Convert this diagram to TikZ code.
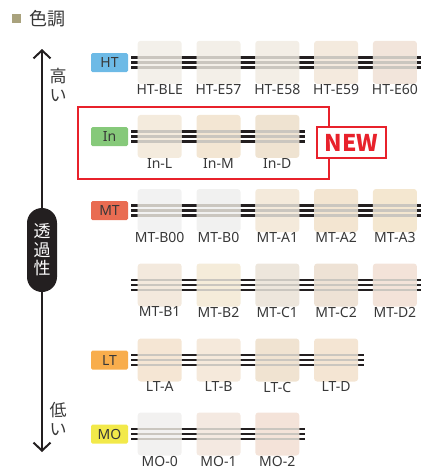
\documentclass[tikz,border=0pt]{standalone}
\usepackage{fontspec}
\setmainfont{Noto Sans}
\newfontfamily\jpfont{Noto Sans CJK JP}
\usepackage{tikz}
\usetikzlibrary{arrows.meta}
\definecolor{filmblack}{HTML}{231F20}
\definecolor{filmgray}{HTML}{CAC6BF}
\definecolor{inkgray}{HTML}{383838}
\definecolor{newred}{HTML}{E8212B}
\definecolor{titleolive}{HTML}{A9A27D}
\definecolor{gradeHT}{HTML}{6DBAE6}
\definecolor{gradeIn}{HTML}{86C97A}
\definecolor{gradeMT}{HTML}{E96C52}
\definecolor{gradeLT}{HTML}{F8AD4C}
\definecolor{gradeMO}{HTML}{F2E94A}
\definecolor{cHTBLE}{HTML}{F3F0EA}
\definecolor{cHTEa}{HTML}{F3EFE8}
\definecolor{cHTEb}{HTML}{F3EEE6}
\definecolor{cHTEc}{HTML}{F4EADE}
\definecolor{cHTEd}{HTML}{F2E5DB}
\definecolor{cInL}{HTML}{F4EBDD}
\definecolor{cInM}{HTML}{F3E6D3}
\definecolor{cInD}{HTML}{EFE3D1}
\definecolor{cMTBoo}{HTML}{F2F2F2}
\definecolor{cMTBo}{HTML}{F1F1F0}
\definecolor{cMTAa}{HTML}{F4EADB}
\definecolor{cMTAb}{HTML}{F3E5D1}
\definecolor{cMTAc}{HTML}{F4E7D0}
\definecolor{cMTBa}{HTML}{F3E9DD}
\definecolor{cMTBb}{HTML}{F5ECDA}
\definecolor{cMTCa}{HTML}{EDE6DC}
\definecolor{cMTCb}{HTML}{EEE2D5}
\definecolor{cMTDb}{HTML}{F3E3D9}
\definecolor{cLTA}{HTML}{F5E6D4}
\definecolor{cLTB}{HTML}{F5E9DB}
\definecolor{cLTC}{HTML}{F0E3D1}
\definecolor{cLTD}{HTML}{F4E5D3}
\definecolor{cMOo}{HTML}{F2F1F0}
\definecolor{cMOa}{HTML}{F4E9E1}
\definecolor{cMOb}{HTML}{F4E3D9}

\begin{document}
\begin{tikzpicture}[x=1pt, y=-1pt,
  film/.style={line width=2.6pt, filmblack},
  seen/.style={line width=2.6pt, filmgray},
  swatch/.style={rectangle, rounded corners=3pt, minimum width=44pt, minimum height=43pt, inner sep=0pt, label distance=4.3pt,
    path picture={\foreach \d in {-5,0,5} \draw[seen] ([yshift=\d pt]path picture bounding box.west) -- ([yshift=\d pt]path picture bounding box.east);}},
  tag/.style={inner sep=0pt, text=inkgray, font=\fontsize{14}{14}\selectfont},
  grade/.style={rectangle, rounded corners=1.5pt, minimum width=37pt, minimum height=19pt, inner sep=0pt, text=inkgray, font=\fontsize{14}{14}\selectfont},
  side/.style={inner sep=0pt, align=center, text=inkgray, font=\jpfont\fontsize{17}{18.5}\selectfont},
  axis/.style={line width=2pt, filmblack, {Straight Barb[length=8pt,width=17pt]}-{Straight Barb[length=8pt,width=17pt]}}]
\useasboundingbox (0,0) rectangle (421,474);
% -- title --
\node[fill=titleolive, minimum size=9pt, inner sep=0pt] (sq) at (16.6,18.4) {};
\node[anchor=west, inner sep=0pt, text=inkgray, font=\jpfont\fontsize{18}{18}\selectfont] (title) at (29,18.5) {色調};
% -- axis --
\coordinate (lo) at (42,452);
\coordinate (hi) at (42,49);
\draw[axis] (lo) -- (hi);
\node[fill=filmblack, rounded corners=15pt, minimum width=30pt, minimum height=84pt, inner sep=0pt, align=center, text=white, font=\jpfont\fontsize{17}{18.5}\selectfont] (trans) at (42,250) {透\\過\\性};
\node[side] (high) at (58,85) {高\\い};
\node[side] (low) at (58,419) {低\\い};
% -- row HT --
\coordinate (htA) at (131,62.3);
\coordinate (htB) at (421,62.3);
\foreach \d in {-5,0,5} \draw[film] ([yshift=\d pt]htA) -- ([yshift=\d pt]htB);
\node[grade, fill=gradeHT] (ht) at (109.5,62.5) {HT};
\node[swatch, fill=cHTBLE, label={[tag]below:HT-BLE}] (htble) at (159.7,62.3) {};
\node[swatch, fill=cHTEa, label={[tag]below:HT-E57}] (hte57) at (218.5,62.3) {};
\node[swatch, fill=cHTEb, label={[tag]below:HT-E58}] (hte58) at (277.3,62.3) {};
\node[swatch, fill=cHTEc, label={[tag]below:HT-E59}] (hte59) at (336.1,62.3) {};
\node[swatch, fill=cHTEd, label={[tag]below:HT-E60}] (hte60) at (394.9,62.3) {};
% -- row In --
\coordinate (inA) at (131,136.4);
\coordinate (inB) at (305,136.4);
\foreach \d in {-5,0,5} \draw[film] ([yshift=\d pt]inA) -- ([yshift=\d pt]inB);
\node[grade, fill=gradeIn] (in) at (109.5,136.6) {In};
\node[swatch, fill=cInL, label={[tag]below:In-L}] (inl) at (159.7,136.4) {};
\node[swatch, fill=cInM, label={[tag]below:In-M}] (inm) at (218.5,136.4) {};
\node[swatch, fill=cInD, label={[tag]below:In-D}] (ind) at (277.3,136.4) {};
\node[draw=newred, line width=2pt, minimum width=251pt, minimum height=72pt, inner sep=0pt] (inbox) at (203.5,143) {};
\node[draw=newred, line width=1.7pt, fill=white, minimum width=69pt, minimum height=31pt, inner sep=0pt, text=newred, font=\jpfont\bfseries\fontsize{23}{23}\selectfont] (new) at (351.5,142.5) {NEW};
% -- row MT --
\coordinate (mtA) at (131,210.5);
\coordinate (mtB) at (421,210.5);
\foreach \d in {-5,0,5} \draw[film] ([yshift=\d pt]mtA) -- ([yshift=\d pt]mtB);
\node[grade, fill=gradeMT] (mt) at (109.5,210.7) {MT};
\node[swatch, fill=cMTBoo, label={[tag]below:MT-B00}] (mtb00) at (159.7,210.5) {};
\node[swatch, fill=cMTBo, label={[tag]below:MT-B0}] (mtb0) at (218.5,210.5) {};
\node[swatch, fill=cMTAa, label={[tag]below:MT-A1}] (mta1) at (277.3,210.5) {};
\node[swatch, fill=cMTAb, label={[tag]below:MT-A2}] (mta2) at (336.1,210.5) {};
\node[swatch, fill=cMTAc, label={[tag]below:MT-A3}] (mta3) at (394.9,210.5) {};
% -- row MT, second line --
\coordinate (mtC) at (131,285);
\coordinate (mtD) at (421,285);
\foreach \d in {-5,0,5} \draw[film] ([yshift=\d pt]mtC) -- ([yshift=\d pt]mtD);
\node[swatch, fill=cMTBa, label={[tag]below:MT-B1}] (mtb1) at (159.7,285) {};
\node[swatch, fill=cMTBb, label={[tag]below:MT-B2}] (mtb2) at (218.5,285) {};
\node[swatch, fill=cMTCa, label={[tag]below:MT-C1}] (mtc1) at (277.3,285) {};
\node[swatch, fill=cMTCb, label={[tag]below:MT-C2}] (mtc2) at (336.1,285) {};
\node[swatch, fill=cMTDb, label={[tag]below:MT-D2}] (mtd2) at (394.9,285) {};
% -- row LT --
\coordinate (ltA) at (131,360);
\coordinate (ltB) at (364,360);
\foreach \d in {-5,0,5} \draw[film] ([yshift=\d pt]ltA) -- ([yshift=\d pt]ltB);
\node[grade, fill=gradeLT] (lt) at (109.5,360.2) {LT};
\node[swatch, fill=cLTA, label={[tag]below:LT-A}] (lta) at (159.7,360) {};
\node[swatch, fill=cLTB, label={[tag]below:LT-B}] (ltb) at (218.5,360) {};
\node[swatch, fill=cLTC, label={[tag]below:LT-C}] (ltc) at (277.3,360) {};
\node[swatch, fill=cLTD, label={[tag]below:LT-D}] (ltd) at (336.1,360) {};
% -- row MO --
\coordinate (moA) at (131,434);
\coordinate (moB) at (305,434);
\foreach \d in {-5,0,5} \draw[film] ([yshift=\d pt]moA) -- ([yshift=\d pt]moB);
\node[grade, fill=gradeMO] (mo) at (109.5,434.2) {MO};
\node[swatch, fill=cMOo, label={[tag]below:MO-0}] (mo0) at (159.7,434) {};
\node[swatch, fill=cMOa, label={[tag]below:MO-1}] (mo1) at (218.5,434) {};
\node[swatch, fill=cMOb, label={[tag]below:MO-2}] (mo2) at (277.3,434) {};
\end{tikzpicture}
\end{document}
